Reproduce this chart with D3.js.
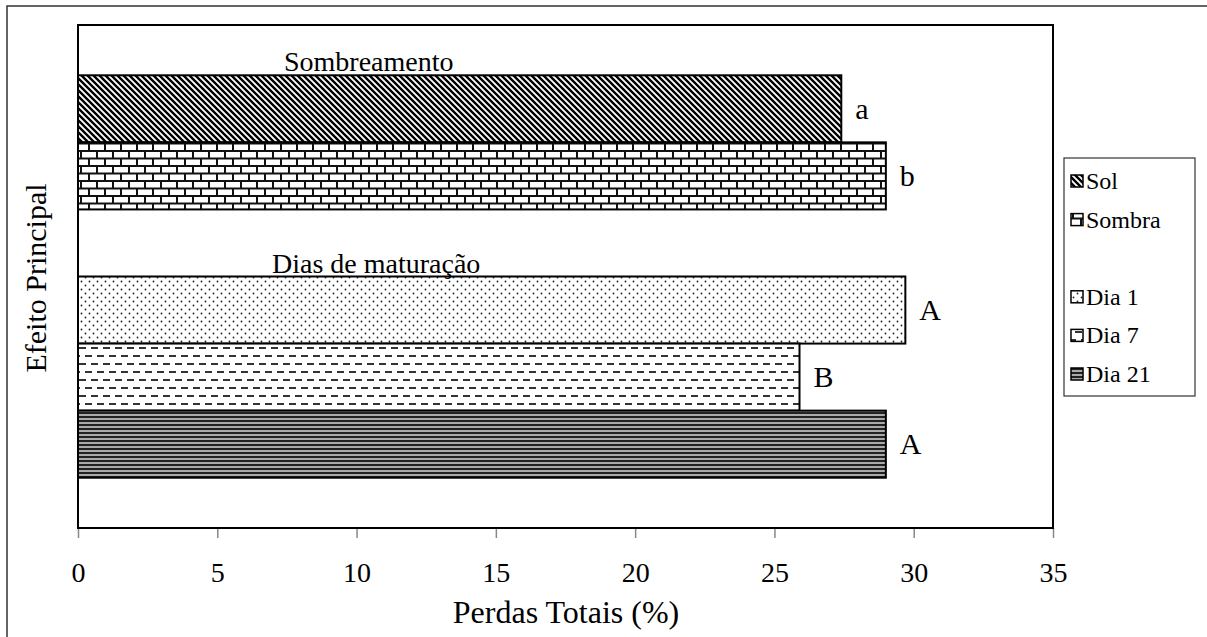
<!DOCTYPE html>
<html>
<head>
<meta charset="utf-8">
<script src="https://cdn.jsdelivr.net/npm/d3@7"></script>
<style>
  html, body { margin: 0; padding: 0; background: #fff; }
  svg { display: block; }
  text { font-family: "Liberation Serif", "Times New Roman", serif; fill: #000; }
</style>
</head>
<body>
<svg id="chart" width="1207" height="637"></svg>
<script>
// ---- data ----
const categories = ["Sol", "Sombra", "Dia 1", "Dia 7", "Dia 21"];
const values = [27.4, 29.0, 29.7, 25.9, 29.0];
const letters = ["a", "b", "A", "B", "A"];
const patterns = ["pSol", "pSombra", "pDia1", "pDia7", "pDia21"];
const groupLabels = ["Sombreamento", "Dias de maturação"];
const groupFirst = ["Sol", "Dia 1"];
const slots = ["Sol", "Sombra", "_gap", "Dia 1", "Dia 7", "Dia 21"];
const legendItems = ["Sol", "Sombra", "", "Dia 1", "Dia 7", "Dia 21"];
const xTicks = [0, 5, 10, 15, 20, 25, 30, 35];
const xTitle = "Perdas Totais (%)";
const yTitle = "Efeito Principal";

const svg = d3.select("#chart");
const W = 1207, H = 637;
const plot = { left: 78, right: 1053, top: 25, bottom: 528 };
const FONT = "Liberation Serif, Times New Roman, serif";

// ---- patterns ----
const defs = svg.append("defs");
// Sol: diagonal "\" stripes
const p1 = defs.append("pattern").attr("id", "pSol").attr("patternUnits", "userSpaceOnUse")
  .attr("width", 6).attr("height", 6);
p1.append("rect").attr("width", 6).attr("height", 6).attr("fill", "#fff");
p1.append("path").attr("d", "M0,0L6,6M-3,3L3,9M3,-3L9,3").attr("stroke", "#000").attr("stroke-width", 2.4);
// Sombra: bricks
const p2 = defs.append("pattern").attr("id", "pSombra").attr("patternUnits", "userSpaceOnUse")
  .attr("width", 16).attr("height", 15);
p2.append("rect").attr("width", 16).attr("height", 15).attr("fill", "#fff");
p2.append("path").attr("d", "M0,1H16M0,8.5H16M1,1V8.5M9,8.5V16").attr("stroke", "#111").attr("stroke-width", 2);
// Dia 1: dots
const p3 = defs.append("pattern").attr("id", "pDia1").attr("patternUnits", "userSpaceOnUse")
  .attr("width", 8).attr("height", 8);
p3.append("rect").attr("width", 8).attr("height", 8).attr("fill", "#fff");
p3.append("circle").attr("cx", 1.5).attr("cy", 1.5).attr("r", 0.9).attr("fill", "#222");
p3.append("circle").attr("cx", 5.5).attr("cy", 5.5).attr("r", 0.9).attr("fill", "#222");
// Dia 7: dashes
const p4 = defs.append("pattern").attr("id", "pDia7").attr("patternUnits", "userSpaceOnUse")
  .attr("width", 12).attr("height", 16);
p4.append("rect").attr("width", 12).attr("height", 16).attr("fill", "#fff");
p4.append("path").attr("d", "M1,4H8M7,12H14M-5,12H2").attr("stroke", "#333").attr("stroke-width", 2);
// Dia 21: dense horizontal stripes
const p5 = defs.append("pattern").attr("id", "pDia21").attr("patternUnits", "userSpaceOnUse")
  .attr("width", 4).attr("height", 4);
p5.append("rect").attr("width", 4).attr("height", 4).attr("fill", "#aaa");
p5.append("rect").attr("y", 0).attr("width", 4).attr("height", 2).attr("fill", "#222");

// ---- outer border ----
svg.append("rect").attr("x", 7).attr("y", 6).attr("width", W).attr("height", H)
  .attr("fill", "none").attr("stroke", "#333").attr("stroke-width", 1.5);

// ---- scales ----
const x = d3.scaleLinear().domain([0, 35]).range([plot.left, plot.right]);
const y = d3.scaleBand().domain(slots).range([plot.top, plot.bottom])
  .paddingInner(0).paddingOuter(0.75);

// ---- axis ----
const axis = d3.axisBottom(x).tickValues(xTicks).tickSize(10).tickPadding(24)
  .tickFormat(d3.format("d"));
const gx = svg.append("g").attr("transform", `translate(0,${plot.bottom})`).call(axis);
gx.select(".domain").remove();
gx.selectAll(".tick line").attr("stroke", "#888").attr("stroke-width", 1.5);
gx.selectAll(".tick text").attr("font-family", FONT).style("font-size", "28px");

// ---- bars ----
const data = categories.map((c, i) => ({ c, v: values[i], l: letters[i], p: patterns[i] }));
svg.append("g").selectAll("rect").data(data).join("rect")
  .attr("x", x(0)).attr("y", d => y(d.c))
  .attr("width", d => x(d.v) - x(0)).attr("height", y.bandwidth())
  .attr("fill", d => `url(#${d.p})`).attr("stroke", "#000").attr("stroke-width", 2);

// letters
svg.append("g").selectAll("text").data(data).join("text")
  .attr("x", d => x(d.v) + 14).attr("y", d => y(d.c) + y.bandwidth() / 2 + 10)
  .style("font-size", "30px").text(d => d.l);

// group labels
svg.append("g").selectAll("text").data(groupLabels).join("text")
  .attr("x", (d, i) => i === 0 ? 284 : 272)
  .attr("y", (d, i) => y(groupFirst[i]) - 4)
  .style("font-size", "28px").text(d => d);

// ---- plot frame ----
svg.append("rect").attr("x", plot.left).attr("y", plot.top)
  .attr("width", plot.right - plot.left).attr("height", plot.bottom - plot.top)
  .attr("fill", "none").attr("stroke", "#000").attr("stroke-width", 2);

// ---- titles ----
svg.append("text").attr("x", 566).attr("y", 623).attr("text-anchor", "middle")
  .style("font-size", "32px").text(xTitle);
svg.append("text").attr("transform", "translate(46,278) rotate(-90)").attr("text-anchor", "middle")
  .style("font-size", "30px").text(yTitle);

// ---- legend ----
const lg = svg.append("g");
lg.append("rect").attr("x", 1064).attr("y", 158).attr("width", 131).attr("height", 238)
  .attr("fill", "#fff").attr("stroke", "#333").attr("stroke-width", 1.2);
const legY = d3.scalePoint().domain(d3.range(legendItems.length)).range([181, 374]);
legendItems.forEach((name, i) => {
  if (!name) return;
  const idx = categories.indexOf(name);
  const cy = legY(i);
  lg.append("rect").attr("x", 1071).attr("y", cy - 6).attr("width", 12).attr("height", 12)
    .attr("fill", `url(#${patterns[idx]})`).attr("stroke", "#000").attr("stroke-width", 1.5);
  lg.append("text").attr("x", 1086).attr("y", cy + 8).style("font-size", "24px").text(name);
});
</script>
</body>
</html>
